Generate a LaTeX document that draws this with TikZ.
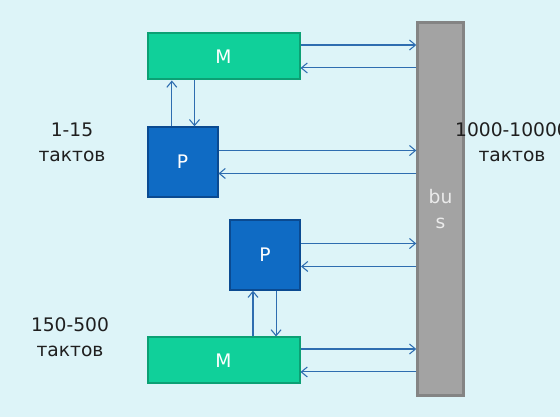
\documentclass[tikz,border=0pt]{standalone}
\usepackage{fontspec}
\setmainfont{DejaVu Sans}
\usepackage{tikz}
\usetikzlibrary{calc, positioning, arrows.meta}
\definecolor{bgcol}{RGB}{221,244,248}
\definecolor{memfill}{RGB}{16,208,154}
\definecolor{memdraw}{RGB}{12,160,116}
\definecolor{cpufill}{RGB}{15,107,196}
\definecolor{cpudraw}{RGB}{10,74,145}
\definecolor{busfill}{RGB}{163,163,163}
\definecolor{busdraw}{RGB}{132,132,132}
\definecolor{linkcol}{RGB}{46,109,176}
\tikzstyle{Mem}=[rectangle, draw=memdraw, fill=memfill, line width=1.5pt, minimum width=114pt, minimum height=34.5pt, inner sep=0pt, text=white, font=\fontsize{14}{18.75}\selectfont]
\tikzstyle{Cpu}=[rectangle, draw=cpudraw, fill=cpufill, line width=1.5pt, minimum width=52.5pt, minimum height=52pt, inner sep=0pt, text=white, font=\fontsize{14}{18.75}\selectfont]
\tikzstyle{Bus}=[rectangle, draw=busdraw, fill=busfill, line width=1.8pt, minimum width=34.5pt, minimum height=279.5pt, inner sep=0pt, text=white!92!black, align=center, font=\fontsize{14}{18.75}\selectfont]
\tikzstyle{Note}=[align=center, text=black!88, font=\fontsize{14}{18.75}\selectfont]
\tikzstyle{Link}=[-{Straight Barb[length=4.5pt,width=7.5pt]}, draw=linkcol, line width=0.8pt]

\begin{document}
\begin{tikzpicture}[x=0.75pt, y=0.75pt]
			\fill[bgcol] (0, 0) rectangle (560, 417);
			\useasboundingbox (0, 0) rectangle (560, 417);
			\node[Bus] (bus) at (440.5, 208) {bu\\s};
			\node[Mem] (m1) at (223.5, 360.5) {M};
			\node[Cpu] (p1) at (182.5, 255) {P};
			\node[Cpu] (p2) at (265, 162) {P};
			\node[Mem] (m2) at (223.5, 56.5) {M};
			% to and from the bus
			\foreach \n in {m1, p1, p2, m2} {
				\draw[Link] ([yshift=8.6pt]\n.east) -- ([yshift=8.6pt]\n.east -| bus.west);
				\draw[Link] ([yshift=-8.6pt]\n.east -| bus.west) -- ([yshift=-8.6pt]\n.east);
			}
			% memory and processor
			\draw[Link] ([xshift=-8pt]p1.north) -- ([xshift=-8pt]p1.north |- m1.south);
			\draw[Link] ([xshift=9pt]p1.north |- m1.south) -- ([xshift=9pt]p1.north);
			\draw[Link] ([xshift=-9pt]p2.south |- m2.north) -- ([xshift=-9pt]p2.south);
			\draw[Link] ([xshift=8.3pt]p2.south) -- ([xshift=8.3pt]p2.south |- m2.north);

			\node[Note] (fast) at (72, 275) {1-15\\тактов};
			\node[Note] (slow) at (70, 80) {150-500\\тактов};
			\node[Note] (far) at (512, 275) {1000-10000\\тактов};
		\end{tikzpicture}
\end{document}
